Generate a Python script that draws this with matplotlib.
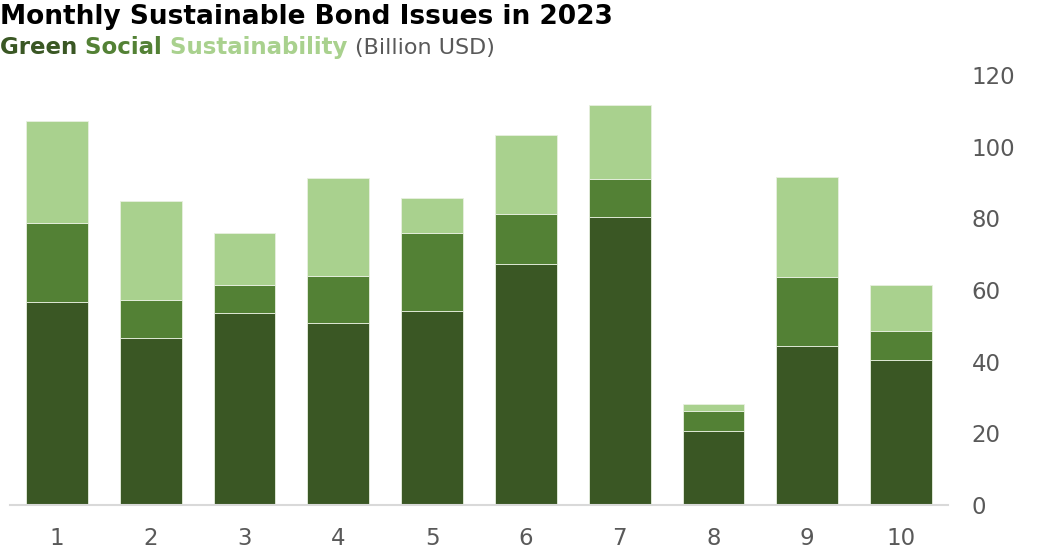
import matplotlib.pyplot as plt
import numpy as np

months = [1, 2, 3, 4, 5, 6, 7, 8, 9, 10]
green = [56.7, 46.6, 53.6, 50.8, 54.1, 67.3, 80.4, 20.7, 44.4, 40.5]
social = [22.0, 10.6, 7.8, 13.1, 21.8, 13.9, 10.6, 5.5, 19.2, 8.1]
sustainability = [28.5, 27.6, 14.5, 27.4, 9.8, 22.1, 20.6, 2.0, 27.9, 12.8]

c_green = "#3a5724"
c_social = "#538135"
c_sust = "#a9d18e"
gray = "#595959"

fig = plt.figure(figsize=(10.51, 5.55), dpi=100)
ax = fig.add_axes([10 / 1051, 1 - 505 / 555, 938 / 1051, 430 / 555])

x = np.array(months)
w = 0.66
g = np.array(green)
s = np.array(social)
u = np.array(sustainability)
ax.bar(x, g, w, color=c_green, edgecolor="#e8f0e0", linewidth=0.6)
ax.bar(x, s, w, bottom=g, color=c_social, edgecolor="#e8f0e0", linewidth=0.6)
ax.bar(x, u, w, bottom=g + s, color=c_sust, edgecolor="#e8f0e0", linewidth=0.6)

ax.set_xlim(0.5, 10.5)
ax.set_ylim(0, 120)
ax.set_xticks(x)
ax.set_xticklabels([str(m) for m in months])
ax.set_yticks(range(0, 121, 20))
ax.yaxis.tick_right()
ax.tick_params(axis="both", length=0, labelsize=16.5, colors=gray)
ax.tick_params(axis="y", pad=17)
ax.tick_params(axis="x", pad=16)
for sp in ["top", "right", "left"]:
    ax.spines[sp].set_visible(False)
ax.spines["bottom"].set_color("#d9d9d9")
ax.spines["bottom"].set_linewidth(1.5)

fig.text(0.0, 1 - 17 / 555, "Monthly Sustainable Bond Issues in 2023",
         fontsize=19, fontweight="bold", color="black", va="center", ha="left")

# subtitle built from coloured pieces, on one baseline
y_sub = 1 - 54 / 555
r = fig.canvas.get_renderer()
xpos = 0.0
for txt, col, bold, size in [("Green ", c_green, True, 16.5), ("Social ", c_social, True, 16.5),
                             ("Sustainability ", c_sust, True, 16.5),
                             ("(Billion USD)", gray, False, 16)]:
    tt = fig.text(xpos, y_sub, txt, fontsize=size, fontweight="bold" if bold else "normal",
                  color=col, va="baseline", ha="left")
    bb = tt.get_window_extent(renderer=r)
    xpos += bb.width / fig.bbox.width

fig.savefig("out.png", dpi=100)
